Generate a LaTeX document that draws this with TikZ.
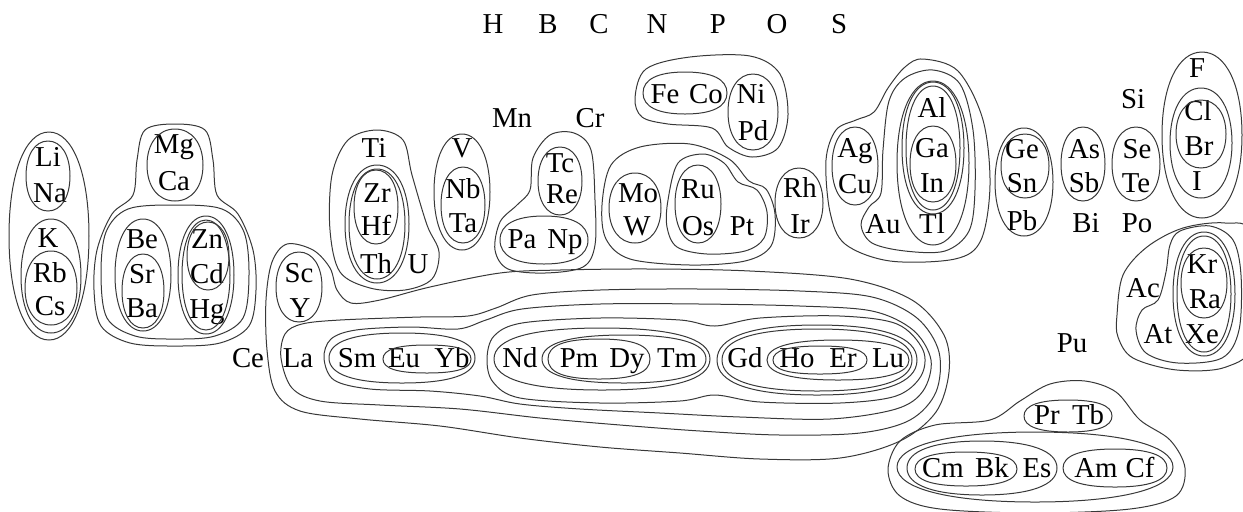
\documentclass[tikz,border=0pt]{standalone}
\usepackage{fontspec}
\setmainfont{Liberation Serif}
% closed rounded ring: [squareness]{cx}{cy}{rx}{ry}
\newcommand{\ovl}[5][0.6]{\draw[ring] ({#2+#4},{#3}) .. controls ({#2+#4},{#3+#1*#5}) and ({#2+#1*#4},{#3+#5}) .. ({#2},{#3+#5}) .. controls ({#2-#1*#4},{#3+#5}) and ({#2-#4},{#3+#1*#5}) .. ({#2-#4},{#3}) .. controls ({#2-#4},{#3-#1*#5}) and ({#2-#1*#4},{#3-#5}) .. ({#2},{#3-#5}) .. controls ({#2+#1*#4},{#3-#5}) and ({#2+#4},{#3-#1*#5}) .. cycle;}
% free-form smooth closed contour
\newcommand{\blob}[1]{\draw[ring] plot[smooth cycle, tension=0.55] coordinates {#1};}
\tikzset{
  ring/.style={draw=black!78, line width=0.5pt},
  el/.style={anchor=base, inner sep=0pt, font=\rmfamily\fontsize{14.4}{16}\selectfont}
}
\begin{document}
\begin{tikzpicture}[x=0.5pt, y=-0.5pt]
\useasboundingbox (0,0) rectangle (1243,511);

% ---------- element symbols ----------
\foreach \n/\x/\y in {H/493/33, B/548/33, C/599/33, N/657/33, P/718/33, O/777/33, S/839/33,
  Li/48/166, Na/50/202, K/48/247, Rb/50/282, Cs/50/315,
  Mg/174/153, Ca/174/190, Be/142/248, Sr/142/283, Ba/142/317,
  Zn/207/248, Cd/207/283, Hg/207/318,
  Ti/374/157, Zr/377/202, Hf/376/235, Th/376/273, U/418/273,
  V/462/157, Nb/463/198, Ta/463/232,
  Mn/512/127, Cr/590/127, Tc/560/172, Re/562/203, Pa/522/248, Np/565/248,
  Fe/665/103, Co/706/103, Ni/751/103, Pd/753/140,
  Mo/638/202, W/637/235, Ru/698/198, Os/698/235, Pt/742/235,
  Rh/800/197, Ir/800/233,
  Ag/855/157, Cu/855/193, Au/883/233, Al/932/117, Ga/932/157, In/932/192, Tl/932/233,
  Ge/1022/158, Sn/1022/192, Pb/1022/230,
  As/1084/158, Sb/1084/192, Bi/1086/232,
  Si/1133/108, Se/1137/158, Te/1136/192, Po/1137/232,
  F/1197/77, Cl/1198/120, Br/1199/155, I/1197/190,
  Ac/1143/297, Kr/1202/273, Ra/1205/308, At/1158/343, Xe/1202/343,
  Pu/1072/352, Sc/299/282, Y/300/317,
  Ce/248/367, La/298/367, Sm/357/367, Eu/404/367, Yb/452/367,
  Nd/520/367, Pm/579/367, Dy/627/367, Tm/677/367,
  Gd/745/367, Ho/797/367, Er/843/367, Lu/888/367,
  Pr/1047/424, Tb/1088/424, Cm/943/477, Bk/992/477, Es/1037/477, Am/1096/477, Cf/1140/477}
  \node[el] (\n) at (\x,\y) {\n};

% ---------- alkali metals ----------
\ovl{49}{236}{40}{104}
\ovl{48}{176}{22}{35}
\ovl{51}{276}{30}{57}
\ovl{51}{288}{26}{37}

% ---------- alkaline earths and zinc group ----------
\ovl{175}{165}{28}{36}
\ovl{143}{275}{28}{56}
\ovl{143}{291}{21}{37}
\ovl{206}{275}{28}{59}
\ovl{206}{275}{24}{55}
\ovl{208}{256}{21}{34}
\blob{(175,205) (222,209) (244,232) (249,275) (243,318) (215,336) (175,339) (135,336) (107,318) (101,275) (106,232) (128,209)}
\blob{(175,124) (205,130) (213,160) (217,195) (238,214) (253,250) (256,290) (249,326) (220,343) (175,346) (130,343) (101,326) (94,290) (97,250) (112,214) (133,195) (137,160) (145,130)}

% ---------- titanium group ----------
\blob{(377,130) (403,140) (412,175) (427,225) (439,252) (432,279) (405,290) (370,288) (340,272) (330,230) (332,175) (348,140)}
\ovl{377}{224}{32}{59}
\ovl{377}{224}{28}{55}
\ovl{376}{207}{22}{37}

% ---------- vanadium group ----------
\ovl{462}{192}{28}{58}
\ovl{463}{205}{22}{38}

% ---------- Tc, Re, Pa, Np ----------
\ovl{560}{181}{22}{34}
\ovl[0.65]{544}{240}{44}{24}
\blob{(495,250) (500,222) (517,205) (530,190) (533,158) (550,135) (574,133) (591,150) (595,200) (595,245) (583,267) (545,273) (508,269)}

% ---------- iron, cobalt, nickel ----------
\ovl[0.65]{685}{93}{42}{21}
\ovl{753}{112}{25}{38}
\blob{(635,98) (646,69) (690,57) (750,56) (780,74) (788,115) (778,148) (752,157) (728,147) (712,128) (668,124) (642,117)}

% ---------- Mo, W, Ru, Os, Pt ----------
\ovl{635}{208}{26}{35}
\ovl{698}{204}{23}{39}
\blob{(668,200) (678,163) (703,154) (724,163) (738,182) (757,190) (767,212) (764,238) (745,251) (707,254) (677,247) (667,227)}
\blob{(602,205) (611,165) (640,147) (690,144) (729,159) (749,181) (766,189) (775,214) (771,246) (745,261) (690,265) (630,259) (606,239)}
\ovl{799}{203}{24}{35}

% ---------- coinage metals and boron group ----------
\ovl{855}{166}{23}{39}
\ovl{933}{164}{23}{38}
\ovl{933}{148}{27}{62}
\ovl{933}{148}{31}{66}
\ovl{933}{163}{36}{82}
\blob{(933,70) (960,84) (973,130) (975,190) (969,231) (945,251) (905,251) (872,243) (861,225) (869,207) (881,193) (883,150) (889,101) (905,78)}
\blob{(923,59) (958,71) (983,120) (990,185) (981,240) (955,259) (890,261) (845,244) (830,212) (826,160) (836,130) (856,120) (874,112) (888,88) (905,67)}

% ---------- carbon, pnictogen, chalcogen, halogen columns ----------
\ovl{1024}{182}{29}{54}
\ovl{1025}{166}{24}{32}
\ovl{1083}{164}{22}{37}
\ovl{1136}{164}{24}{37}
\ovl{1202}{135}{40}{83}
\ovl{1201}{143}{31}{55}
\ovl{1201}{134}{25}{34}

% ---------- noble gases and companions ----------
\ovl{1204}{283}{23}{35}
\ovl{1204}{294}{27}{58}
\ovl{1204}{294}{31}{62}
\blob{(1180,231) (1210,226) (1233,240) (1241,275) (1239,330) (1222,358) (1178,363) (1146,353) (1136,330) (1142,310) (1158,300) (1166,272) (1170,245)}
\blob{(1117,315) (1123,275) (1147,247) (1183,228) (1225,223) (1252,236) (1254,340) (1226,367) (1177,370) (1133,358) (1118,337)}

% ---------- scandium, yttrium and the lanthanides ----------
\ovl{299}{287}{23}{35}
\ovl[0.68]{427}{359}{44}{14}
\ovl[0.66]{402}{358}{73}{25}
\ovl[0.68]{599}{359}{51}{20}
\ovl[0.66]{624}{359}{82}{24}
\ovl[0.66]{602}{359}{108}{31}
\ovl[0.68]{820}{360}{47}{14}
\ovl[0.66]{838}{360}{71}{20}
\ovl[0.66]{817}{360}{95}{31}
\ovl[0.66]{817}{360}{100}{35}
% Nd ... Lu
\blob{(487,359) (494,336) (522,323) (600,318) (680,320) (715,326) (760,318) (840,316) (897,324) (923,350) (921,376) (896,396) (840,403) (760,402) (715,395) (680,401) (600,403) (520,398) (493,382)}
% Sm ... Lu
\blob{(324,358) (331,339) (356,330) (410,327) (458,329) (486,320) (522,309) (600,304) (700,304) (800,306) (872,311) (913,330) (931,360) (923,391) (896,409) (830,419) (740,417) (660,413) (580,409) (520,404) (480,396) (430,391) (370,389) (334,380)}
% La ... Lu
\blob{(281,358) (285,334) (302,324) (340,320) (420,317) (468,316) (496,308) (532,295) (600,290) (700,289) (800,291) (872,297) (917,318) (939,352) (936,392) (910,420) (860,433) (780,435) (700,431) (620,425) (540,418) (460,409) (380,405) (320,401) (292,388)}
% Sc, Y, La ... Lu
\blob{(287,244) (313,250) (330,268) (337,290) (351,303) (380,300) (430,287) (500,273) (560,270) (650,269) (750,271) (850,279) (912,300) (944,335) (949,372) (936,412) (900,441) (840,458) (760,459) (680,453) (600,447) (520,438) (440,426) (360,419) (300,411) (275,391) (267,350) (266,300) (272,262)}

% ---------- actinide cluster ----------
\ovl[0.66]{1068}{416}{44}{16}
\ovl[0.66]{966}{469}{51}{17}
\ovl[0.64]{982}{468}{75}{27}
\ovl[0.66]{1115}{468}{52}{19}
\ovl[0.62]{1035}{467}{138}{35}
\blob{(888,470) (900,441) (935,425) (990,420) (1020,401) (1050,384) (1085,381) (1116,392) (1140,420) (1170,440) (1185,468) (1176,496) (1130,509) (1035,513) (940,509) (900,496)}
\end{tikzpicture}
\end{document}
